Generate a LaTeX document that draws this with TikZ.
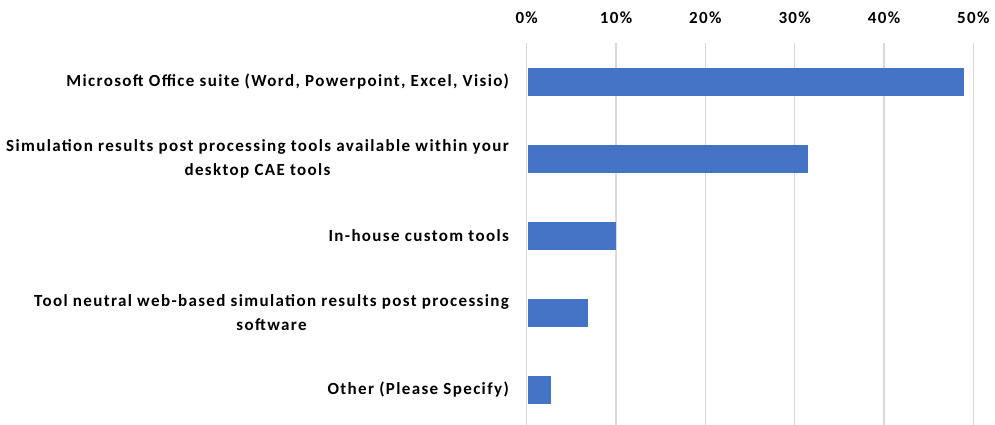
\documentclass[tikz,border=0pt]{standalone}
\usepackage{fontspec}
\setmainfont{Carlito}[LetterSpace=8]
\usepackage{tikz}
\usetikzlibrary{positioning}

\definecolor{barblue}{HTML}{4472C4}
\definecolor{gridgray}{HTML}{D9D9D9}

\begin{document}
\begin{tikzpicture}[x=1pt, y=-1pt,
    bar/.style={fill=barblue, draw=none, inner sep=0, minimum height=28pt, anchor=west},
    cat/.style={font=\fontsize{17}{24.5}\selectfont\bfseries, align=center, anchor=east, inner sep=0},
    tick/.style={font=\fontsize{17}{18}\selectfont\bfseries, inner sep=0},
    grid/.style={draw=gridgray, line width=1.2pt}]
        \useasboundingbox (0,0) rectangle (995,425);

        % gridlines and axis labels, 10% = 89.33
        \foreach \i in {0,...,5} {
          \coordinate (g\i t) at (526.7+\i*89.33, 43);
          \coordinate (g\i b) at (526.7+\i*89.33, 425);
          \draw[grid] (g\i t) -- (g\i b);
          \node (t\i) [tick] at (526.7+\i*89.33, 18) {\pgfmathparse{int(\i*10)}\pgfmathresult\%};
        }

        % bars
        \node (b0) [bar, minimum width=436.8pt] at (527.3, 82) {};
        \node (b1) [bar, minimum width=280.9pt] at (527.3, 159) {};
        \node (b2) [bar, minimum width=88.1pt] at (527.3, 235.7) {};
        \node (b3) [bar, minimum width=60.4pt] at (527.3, 312.5) {};
        \node (b4) [bar, minimum width=23.0pt] at (527.3, 390) {};

        % category labels
        \node (l0) [cat] at (509, 82) {Microsoft Office suite (Word, Powerpoint, Excel, Visio)};
        \node (l1) [cat] at (509, 159) {Simulation results post processing tools available within your\\desktop CAE tools};
        \node (l2) [cat] at (509, 235.7) {In-house custom tools};
        \node (l3) [cat] at (509, 312.5) {Tool neutral web-based simulation results post processing\\software};
        \node (l4) [cat] at (509, 390) {Other (Please Specify)};
\end{tikzpicture}
\end{document}
